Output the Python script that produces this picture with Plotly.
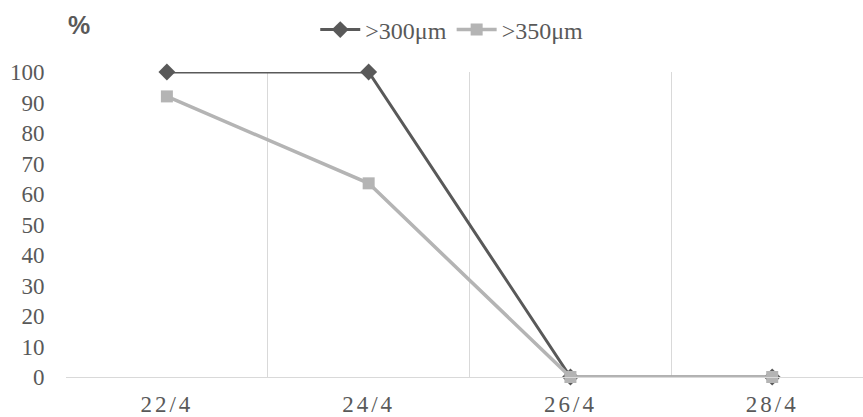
import plotly.graph_objects as go

categories = ["22/4", "24/4", "26/4", "28/4"]
s300 = [100, 100, 0, 0]
s350 = [92, 63.5, 0, 0]
yticks = [0, 10, 20, 30, 40, 50, 60, 70, 80, 90, 100]

xpos = list(range(len(categories)))
dark = "#595959"
light = "#b4b4b4"
serif = "Liberation Serif, Times New Roman, serif"

fig = go.Figure()
fig.add_trace(go.Scatter(x=xpos, y=s300, name=">300\u03bcm", mode="lines+markers",
                         line=dict(color=dark, width=3),
                         marker=dict(symbol="diamond", size=13, color=dark),
                         cliponaxis=False))
fig.add_trace(go.Scatter(x=xpos, y=s350, name=">350\u03bcm", mode="lines+markers",
                         line=dict(color=light, width=3.5),
                         marker=dict(symbol="square", size=12, color=light),
                         cliponaxis=False))

fig.update_layout(
    width=863, height=417,
    margin=dict(l=66, r=0, t=72, b=40),
    paper_bgcolor="white", plot_bgcolor="white",
    font=dict(family=serif, color=dark, size=22),
    showlegend=True,
    legend=dict(orientation="h", x=0.484, xanchor="center", y=0.928, yref="container", yanchor="middle",
                font=dict(family=serif, size=24, color=dark),
                itemwidth=40, traceorder="normal"),
    annotations=[dict(text="<b>%</b>", xref="paper", yref="paper",
                      x=0.0, y=1.0, yshift=47, xanchor="left", yanchor="middle",
                      showarrow=False,
                      font=dict(family="Liberation Sans, Arial", size=25, color=dark))],
)

xt = ['<span style="letter-spacing:3px">%s</span>' % c for c in categories]
fig.update_xaxes(
    range=[-0.5, 3.45], tickmode="array", tickvals=xpos, ticktext=xt,
    showgrid=False, zeroline=False, showline=True, linecolor="#d9d9d9", linewidth=1,
    ticks="outside", ticklen=6, tickcolor="rgba(0,0,0,0)",
    tickfont=dict(family=serif, size=23, color=dark),
    minor=dict(tickmode="linear", tick0=0.5, dtick=1, showgrid=True, gridcolor="#d9d9d9", gridwidth=1, ticks=""),
)
fig.update_yaxes(
    range=[0, 100], tickmode="array", tickvals=yticks,
    showgrid=False, zeroline=False, showline=False,
    ticks="outside", ticklen=16, tickcolor="rgba(0,0,0,0)",
    tickfont=dict(family=serif, size=23, color=dark),
)

fig.write_html("out.html")
